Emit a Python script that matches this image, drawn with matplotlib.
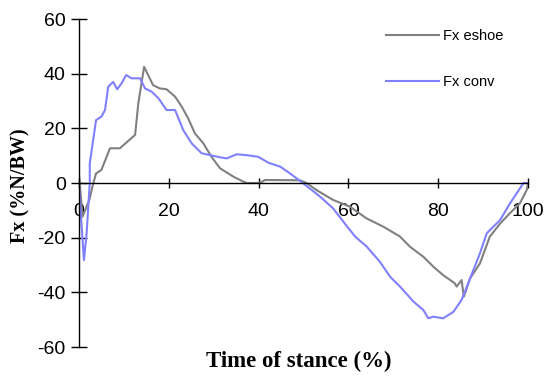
import numpy as np
import matplotlib
matplotlib.use('Agg')
import matplotlib.pyplot as plt

plt.rcParams['axes.unicode_minus'] = False

# Fx eshoe (grey)
eshoe_x = [0, 0.8, 2.3, 3.2, 3.8, 5, 6.9, 9.1, 12.5, 13.2, 14.5, 16.5, 18, 19.5, 21.4,
           22.9, 24.3, 25.8, 27.7, 29.5, 31.4, 34.4, 36.6, 37.4, 40.3, 41.4, 49.2,
           50.7, 52.9, 56.6, 60.4, 64, 67.8, 71.5, 73.7, 76.7, 78.9, 81.1, 83.7,
           84.1, 85.2, 85.7, 87.1, 89.3, 91.5, 93.8, 96, 98.2, 99.7, 100]
eshoe_y = [3, -12.3, -6.2, 0, 3.5, 4.8, 12.7, 12.7, 17.6, 29, 42.5, 35.8, 34.6, 34.3, 31.6,
           27.9, 23.7, 18.2, 14.5, 9.6, 5.4, 2.3, 0.5, 0, 0, 1.1, 1,
           0, -2.6, -6.2, -8.7, -12.9, -16, -19.6, -23.3, -27, -30.6, -33.7, -36.7,
           -37.9, -35.5, -41.6, -34.9, -29.4, -19.6, -14.8, -11, -7.4, -2.6, 0]

# Fx conv (blue)
conv_x = [0, 1.1, 1.7, 2.4, 2.4, 3.8, 5, 5.8, 6.5, 7.6, 8.5, 9.5, 10.5, 11.7, 13.6, 14.7,
          16.2, 17.7, 19.5, 21.4, 23.2, 25.1, 27.3, 29.2, 31.4, 32.9, 35.1, 37.3, 39.9,
          42.2, 44.8, 47, 49.2, 51.4, 53.7, 56.6, 58.9, 61.5, 64.1, 67, 69.3, 71.5,
          74.5, 76.7, 77.8, 78.9, 81.1, 83.4, 85.2, 87.1, 89.3, 90.8, 93.8, 96, 99, 100]
conv_y = [-1.3, -28.2, -18.4, 0, 7.2, 23, 24.3, 26.7, 35.2, 37, 34.3, 36.5, 39.5, 38.3, 38.3, 34.6,
          33.4, 31, 26.7, 26.7, 19.4, 14.5, 10.9, 10.2, 9.4, 9, 10.5, 10.2, 9.6,
          7.4, 6, 3.5, 0.8, -2, -5, -9.3, -14.2, -19.6, -23.3, -28.8, -34.3, -37.9,
          -43.4, -46.5, -49.5, -48.9, -49.5, -47.1, -42.8, -34.9, -25.7, -18.4, -13.5, -7.4, 0, 0]

x_ticks = [0, 20, 40, 60, 80, 100]
y_ticks = [-60, -40, -20, 0, 20, 40, 60]

fig = plt.figure(figsize=(5.47, 3.80), dpi=100)
ax = fig.add_axes([0.1444, 0.0868, 0.8209, 0.8632])

ax.plot(eshoe_x, eshoe_y, color='#808080', lw=1.5, label='Fx eshoe')
ax.plot(conv_x, conv_y, color='#8080FF', lw=1.5, label='Fx conv')

ax.set_xlim(0, 100)
ax.set_ylim(-60, 60)
ax.set_xticks(x_ticks)
ax.set_yticks(y_ticks)

ax.spines['top'].set_visible(False)
ax.spines['right'].set_visible(False)
ax.spines['bottom'].set_position(('data', 0))
for s in ['left', 'bottom']:
    ax.spines[s].set_linewidth(1.0)

ax.tick_params(axis='y', direction='inout', length=11, width=1, pad=4)
ax.tick_params(axis='x', direction='inout', length=7, width=1, pad=11)
for lab in ax.get_xticklabels() + ax.get_yticklabels():
    lab.set_fontfamily('Liberation Sans')
    lab.set_fontsize(14)

fig.text(0.037, 0.512, 'Fx (%N/BW)', rotation=90, ha='center', va='center',
         family='Liberation Serif', fontweight='bold', fontsize=14.5)
fig.text(0.546, 0.05, 'Time of stance (%)', ha='center', va='center',
         family='Liberation Serif', fontweight='bold', fontsize=16.5)

leg = ax.legend(loc='upper left', bbox_to_anchor=(0.655, 1.01), frameon=False,
                handlelength=3.6, handletextpad=0.3, labelspacing=2.2,
                prop={'family': 'Liberation Sans', 'size': 10.5})

fig.savefig('out.png', dpi=100)
